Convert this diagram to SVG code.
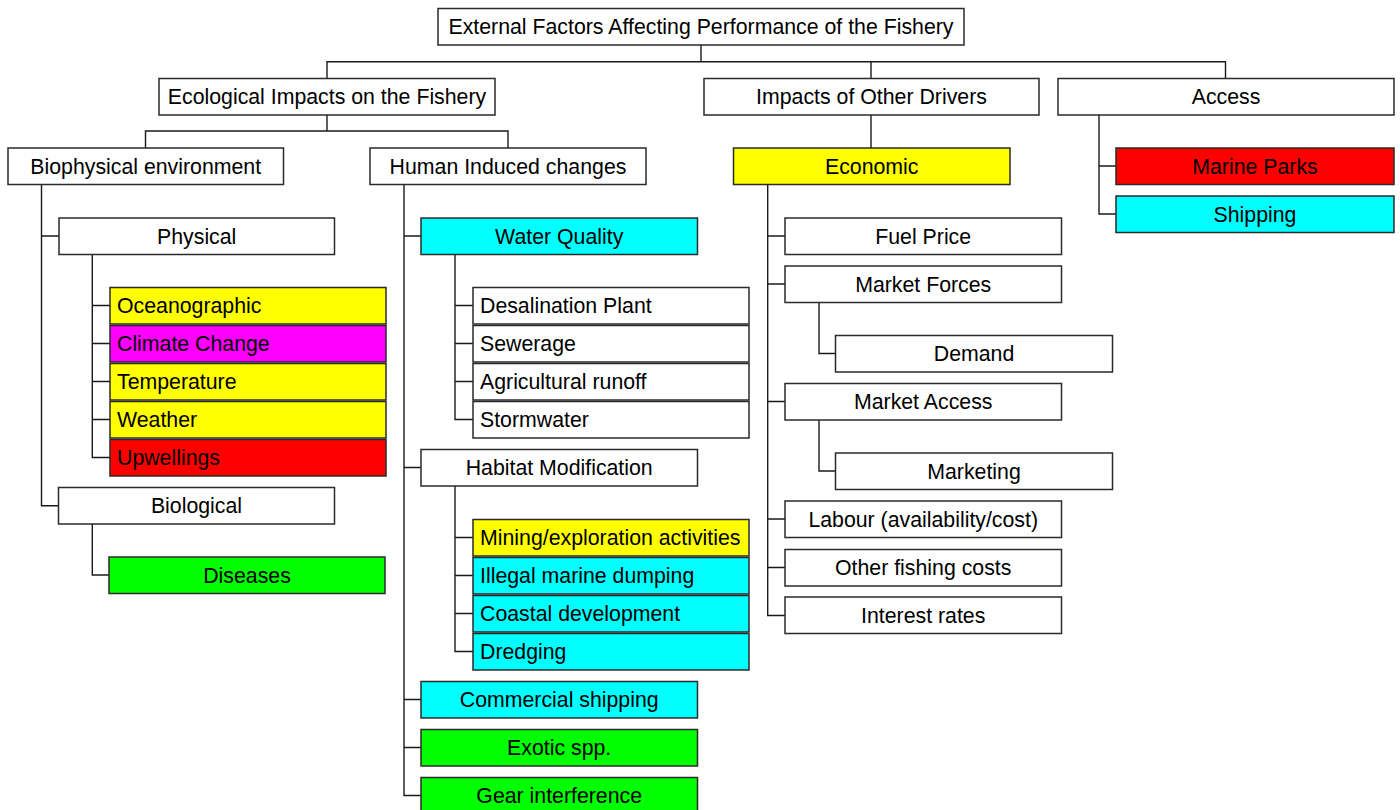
<svg xmlns="http://www.w3.org/2000/svg" width="1400" height="810" viewBox="0 0 1400 810">
<style>
rect{stroke:#2a2a2a;stroke-width:1.5;fill:#fff}
.y{fill:#ffff00}.m{fill:#ff00ff}.r{fill:#ff0000}.c{fill:#00ffff}.g{fill:#00ff00}
text{font-family:"Liberation Sans",Arial,sans-serif;font-size:21.3px;fill:#000}
.ct{text-anchor:middle}
#connectors path{fill:none;stroke:#1a1a1a;stroke-width:1.4}
</style>
<rect x="0" y="0" width="1400" height="810" style="fill:#fff;stroke:none"/>
<g id="connectors">
<path d="M701 45V61.7M327 78.5V61.7H1225.5V78.5M871 61.7V78.5"/>
<path d="M327 115V131M145.5 148V131H508V148"/>
<path d="M871 115V148"/>
<path d="M1099 115V214H1116M1099 166H1116"/>
<path d="M41.5 184.5V505.7H58.5M41.5 236H59"/>
<path d="M92.3 254.5V457.5H110M92.3 305.5H110M92.3 343.5H110M92.3 381.5H110M92.3 419.5H110"/>
<path d="M92.3 524V575H109"/>
<path d="M404 184.5V795.5H421M404 236H421M404 467.5H421M404 699.5H421M404 747.5H421"/>
<path d="M455 254.5V419.5H473M455 305.5H473M455 343.5H473M455 381.5H473"/>
<path d="M455 486V651.5H473M455 537.5H473M455 575.5H473M455 613.5H473"/>
<path d="M767.7 184.5V615.5H785M767.7 236H785M767.7 284H785M767.7 401.5H785M767.7 519H785M767.7 567.5H785"/>
<path d="M819 302.5V353.5H835.5M819 420V471H835.5"/>
</g>
<g id="root"><rect x="438" y="8.5" width="526" height="36.5"/><text class="ct" x="701" y="34">External Factors Affecting Performance of the Fishery</text></g>
<g id="ecological"><rect x="159" y="78.5" width="336" height="36.5"/><text class="ct" x="327" y="104">Ecological Impacts on the Fishery</text></g>
<g id="other-drivers"><rect x="704" y="78.5" width="335" height="36.5"/><text class="ct" x="871.5" y="104">Impacts of Other Drivers</text></g>
<g id="access"><rect x="1058" y="78.5" width="336" height="36.5"/><text class="ct" x="1226" y="104">Access</text></g>
<g id="biophysical"><rect x="8" y="148" width="275.5" height="36.5"/><text class="ct" x="145.7" y="173.5">Biophysical environment</text></g>
<g id="human"><rect x="370" y="148" width="276" height="36.5"/><text class="ct" x="508" y="173.5">Human Induced changes</text></g>
<g id="economic"><rect class="y" x="733.5" y="148" width="276.5" height="36.5"/><text class="ct" x="871.7" y="173.5">Economic</text></g>
<g id="marine-parks"><rect class="r" x="1116" y="148" width="278" height="36.5"/><text class="ct" x="1255" y="173.5">Marine Parks</text></g>
<g id="shipping"><rect class="c" x="1116" y="196" width="278" height="36.5"/><text class="ct" x="1255" y="221.5">Shipping</text></g>
<g id="physical"><rect x="59" y="218" width="275.5" height="36.5"/><text class="ct" x="196.7" y="243.5">Physical</text></g>
<g id="water-quality"><rect class="c" x="421" y="218" width="276.5" height="36.5"/><text class="ct" x="559.2" y="243.5">Water Quality</text></g>
<g id="fuel-price"><rect x="785" y="218" width="276.5" height="36.5"/><text class="ct" x="923.2" y="243.5">Fuel Price</text></g>
<g id="market-forces"><rect x="785" y="266" width="276.5" height="36.5"/><text class="ct" x="923.2" y="291.5">Market Forces</text></g>
<g id="demand"><rect x="835.5" y="335.5" width="277" height="36.5"/><text class="ct" x="974" y="361">Demand</text></g>
<g id="market-access"><rect x="785" y="383.5" width="276.5" height="36.5"/><text class="ct" x="923.2" y="409">Market Access</text></g>
<g id="marketing"><rect x="835.5" y="453" width="277" height="36.5"/><text class="ct" x="974" y="478.5">Marketing</text></g>
<g id="labour"><rect x="785" y="501" width="276.5" height="36.5"/><text class="ct" x="923.2" y="526.5">Labour (availability/cost)</text></g>
<g id="other-costs"><rect x="785" y="549.5" width="276.5" height="36.5"/><text class="ct" x="923.2" y="575">Other fishing costs</text></g>
<g id="interest"><rect x="785" y="597" width="276.5" height="36.5"/><text class="ct" x="923.2" y="622.5">Interest rates</text></g>
<g id="desal"><rect x="473" y="287.5" width="276" height="36.5"/><text x="480" y="313">Desalination Plant</text></g>
<g id="sewerage"><rect x="473" y="325.5" width="276" height="36.5"/><text x="480" y="351">Sewerage</text></g>
<g id="agri"><rect x="473" y="363.5" width="276" height="36.5"/><text x="480" y="389">Agricultural runoff</text></g>
<g id="storm"><rect x="473" y="401.5" width="276" height="36.5"/><text x="480" y="427">Stormwater</text></g>
<g id="oceano"><rect class="y" x="110" y="287.5" width="276" height="36.5"/><text x="117" y="313">Oceanographic</text></g>
<g id="climate"><rect class="m" x="110" y="325.5" width="276" height="36.5"/><text x="117" y="351">Climate Change</text></g>
<g id="temperature"><rect class="y" x="110" y="363.5" width="276" height="36.5"/><text x="117" y="389">Temperature</text></g>
<g id="weather"><rect class="y" x="110" y="401.5" width="276" height="36.5"/><text x="117" y="427">Weather</text></g>
<g id="upwellings"><rect class="r" x="110" y="439.5" width="276" height="36.5"/><text x="117" y="465">Upwellings</text></g>
<g id="biological"><rect x="58.5" y="487.5" width="276" height="36.5"/><text class="ct" x="196.5" y="513">Biological</text></g>
<g id="diseases"><rect class="g" x="109" y="557" width="276" height="36.5"/><text class="ct" x="247" y="582.5">Diseases</text></g>
<g id="habitat"><rect x="421" y="449.5" width="276.5" height="36.5"/><text class="ct" x="559.2" y="475">Habitat Modification</text></g>
<g id="mining"><rect class="y" x="473" y="519.5" width="276" height="36.5"/><text x="480" y="545">Mining/exploration activities</text></g>
<g id="illegal"><rect class="c" x="473" y="557.5" width="276" height="36.5"/><text x="480" y="583">Illegal marine dumping</text></g>
<g id="coastal"><rect class="c" x="473" y="595.5" width="276" height="36.5"/><text x="480" y="621">Coastal development</text></g>
<g id="dredging"><rect class="c" x="473" y="633.5" width="276" height="36.5"/><text x="480" y="659">Dredging</text></g>
<g id="commercial"><rect class="c" x="421" y="681.5" width="276.5" height="36.5"/><text class="ct" x="559.2" y="707">Commercial shipping</text></g>
<g id="exotic"><rect class="c g" x="421" y="729.5" width="276.5" height="36.5"/><text class="ct" x="559.2" y="755">Exotic spp.</text></g>
<g id="gear"><rect class="g" x="421" y="777.5" width="276.5" height="36.5"/><text class="ct" x="559.2" y="803">Gear interference</text></g>
</svg>
